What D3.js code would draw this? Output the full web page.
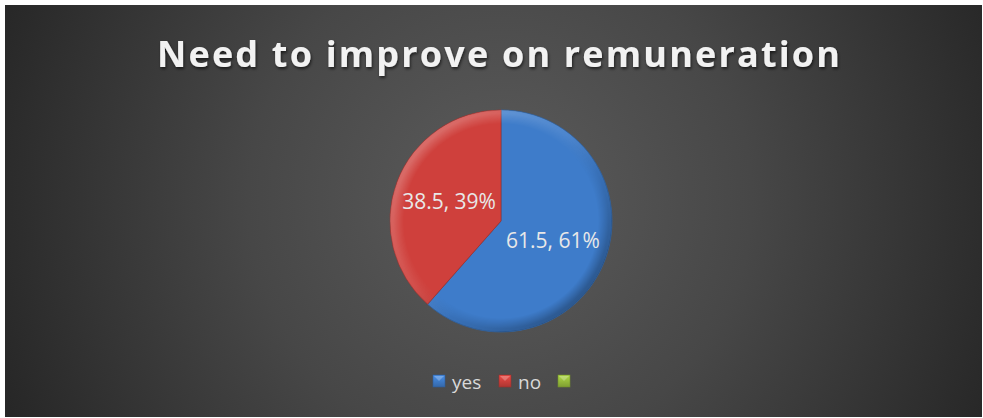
<!DOCTYPE html>
<html>
<head>
<meta charset="utf-8">
<script src="https://cdn.jsdelivr.net/npm/d3@7"></script>
<style>
  body { margin: 0; background: #ffffff; }
  svg { display: block; }
</style>
</head>
<body>
<svg id="chart" width="983" height="418"></svg>
<script>
// chart data
var categories = ["yes", "no", ""];
var values = [61.5, 38.5, 0];
var percents = ["61%", "39%", ""];
var colors = ["#3e7cca", "#cf403c", "#98bd3c"];
var title = "Need to improve on remuneration";

var svg = d3.select("#chart");
var defs = svg.append("defs");

//background gradient
var bg = defs.append("radialGradient")
              .attr("id", "bg")
              .attr("gradientUnits", "userSpaceOnUse")
              .attr("cx", 500).attr("cy", 200).attr("r", 560);
bg.append("stop").attr("offset", "0").attr("stop-color", "#5c5c5c");
bg.append("stop").attr("offset", "0.45").attr("stop-color", "#474747");
bg.append("stop").attr("offset", "1").attr("stop-color", "#242424");

var shadow = defs.append("filter").attr("id", "shadow")
                  .attr("x", "-10%").attr("y", "-30%").attr("width", "120%").attr("height", "160%");
shadow.append("feDropShadow").attr("dx", 1).attr("dy", 2).attr("stdDeviation", 1.5)
      .attr("flood-color", "#000").attr("flood-opacity", 0.6);

svg.append("rect")
    .attr("x", 5).attr("y", 5)
    .attr("width", 977).attr("height", 412)
    .attr("fill", "url(#bg)");

//title
svg.append("text")
    .attr("x", 498.5).attr("y", 67)
    .attr("text-anchor", "middle")
    .attr("font-family", "'Open Sans', sans-serif")
    .attr("font-weight", "bold")
    .attr("font-size", 36)
    .attr("textLength", 683)
    .attr("lengthAdjust", "spacing")
    .attr("fill", "#f2f2f2")
    .attr("filter", "url(#shadow)")
    .text(title);

//pie
var cx = 501, cy = 221, r = 111;
var pieData = d3.pie().sort(null).value(function(d){ return d; })(values);
var arc = d3.arc().innerRadius(0).outerRadius(r);
var rim = d3.arc().innerRadius(r - 14).outerRadius(r);

colors.forEach(function(c, i){
  var sq = defs.append("linearGradient")
                .attr("id", "sq" + i)
                .attr("x1", 0).attr("y1", 0).attr("x2", 0).attr("y2", 1);
  sq.append("stop").attr("offset", "0").attr("stop-color", d3.color(c).brighter(0.4));
  sq.append("stop").attr("offset", "1").attr("stop-color", d3.color(c).darker(0.5));
});

//bevel light: light from upper left, dark toward lower right
var bevel = defs.append("linearGradient")
                 .attr("id", "bevel")
                 .attr("gradientUnits", "userSpaceOnUse")
                 .attr("x1", -r).attr("y1", -r).attr("x2", r).attr("y2", r);
bevel.append("stop").attr("offset", "0").attr("stop-color", "#ffffff").attr("stop-opacity", 0.3);
bevel.append("stop").attr("offset", "0.45").attr("stop-color", "#ffffff").attr("stop-opacity", 0.08);
bevel.append("stop").attr("offset", "0.6").attr("stop-color", "#000000").attr("stop-opacity", 0.08);
bevel.append("stop").attr("offset", "1").attr("stop-color", "#000000").attr("stop-opacity", 0.4);

//fade the rim inward
var fade = defs.append("radialGradient")
                .attr("id", "fade")
                .attr("gradientUnits", "userSpaceOnUse")
                .attr("cx", 0).attr("cy", 0).attr("r", r);
fade.append("stop").attr("offset", (r - 14) / r).attr("stop-color", "#000");
fade.append("stop").attr("offset", "0.97").attr("stop-color", "#fff");
fade.append("stop").attr("offset", "1").attr("stop-color", "#fff");
defs.append("mask").attr("id", "rimMask")
     .attr("maskUnits", "userSpaceOnUse")
     .attr("x", -r).attr("y", -r).attr("width", 2 * r).attr("height", 2 * r)
     .append("circle").attr("r", r).attr("fill", "url(#fade)");

var pie = svg.append("g")
              .attr("transform", "translate(" + cx + "," + cy + ")");
var shown = pieData.filter(function(d){ return d.value > 0; });
pie.selectAll("path.slice")
    .data(shown)
    .enter()
    .append("path")
    .attr("class", "slice")
    .attr("d", arc)
    .attr("fill", function(d){ return colors[d.index]; })
    .attr("stroke", function(d){ return d3.color(colors[d.index]).darker(0.7); })
    .attr("stroke-width", 0.8);
pie.append("g")
    .attr("mask", "url(#rimMask)")
    .selectAll("path.rim")
    .data(shown)
    .enter()
    .append("path")
    .attr("class", "rim")
    .attr("d", rim)
    .attr("fill", "url(#bevel)");

//data labels
pie.selectAll("text")
    .data(shown)
    .enter()
    .append("text")
    .attr("transform", function(d){ return "translate(" + arc.centroid(d) + ")"; })
    .attr("text-anchor", "middle")
    .attr("dy", "0.35em")
    .attr("font-family", "'Open Sans', sans-serif")
    .attr("font-size", 21)
    .attr("fill", "#e8e8e8")
    .text(function(d){ return d.value + ", " + percents[d.index]; });

//legend
var legendX = d3.scaleOrdinal()
                 .domain(d3.range(categories.length))
                 .range([433, 499, 558]);
var legend = svg.append("g").attr("id", "legend")
                 .selectAll("g")
                 .data(categories)
                 .enter()
                 .append("g")
                 .attr("transform", function(d, i){ return "translate(" + legendX(i) + ",375)"; });
legend.append("rect")
       .attr("width", 12).attr("height", 12)
       .attr("fill", function(d, i){ return "url(#sq" + i + ")"; })
       .attr("stroke", function(d, i){ return d3.color(colors[i]).darker(0.8); })
       .attr("stroke-width", 0.6);
legend.append("path")
       .attr("d", "M1,1 L11,1 L6,6 Z")
       .attr("fill", "#ffffff")
       .attr("fill-opacity", 0.25);
legend.append("text")
       .attr("x", 19).attr("y", 14)
       .attr("font-family", "'Open Sans', sans-serif")
       .attr("font-size", 19)
       .attr("fill", "#d9d9d9")
       .text(function(d){ return d; });
</script>
</body>
</html>
